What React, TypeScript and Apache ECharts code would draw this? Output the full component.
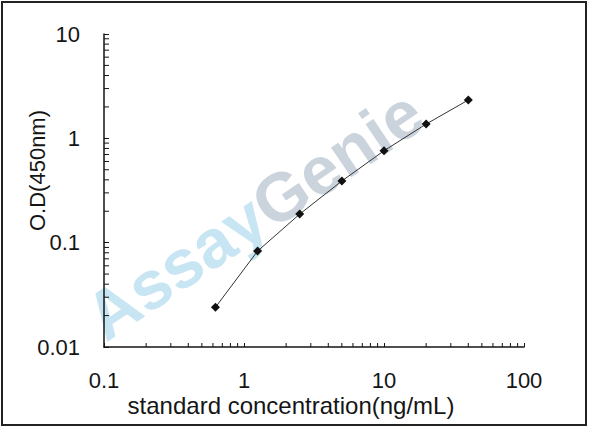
import React, { useEffect, useRef } from 'react';
import * as echarts from 'echarts';

// standard curve points
const concentration = [0.625, 1.25, 2.5, 5, 10, 20, 40];
const od450 = [0.024, 0.083, 0.188, 0.39, 0.76, 1.37, 2.33];

// minor tick positions (2..9 in every decade)
const xMinorTicks = [0.2, 0.3, 0.4, 0.5, 0.6, 0.7, 0.8, 0.9, 2, 3, 4, 5, 6, 7, 8, 9, 20, 30, 40, 50, 60, 70, 80, 90];
const yMinorTicks = [0.02, 0.03, 0.04, 0.05, 0.06, 0.07, 0.08, 0.09, 0.2, 0.3, 0.4, 0.5, 0.6, 0.7, 0.8, 0.9, 2, 3, 4, 5, 6, 7, 8, 9];

const xRange = [0.1, 100];
const yRange = [0.01, 10];

const font = 'Arial, "Liberation Sans", sans-serif';
const ink = '#151515';

const App: React.FC = () => {
  const chartRef = useRef<HTMLDivElement>(null);

  useEffect(() => {
    if (!chartRef.current) return;
    const chart = echarts.init(chartRef.current, undefined, { renderer: 'svg' });

    const option = {
      animation: false,
      backgroundColor: '#fff',
      grid: { left: 104, right: 66, top: 34, bottom: 81 },
      graphic: [
        {
          type: 'text',
          x: 254,
          y: 214,
          rotation: (34 * Math.PI) / 180,
          silent: true,
          z: -1,
          style: {
            text: '{a|Assay}{g|Genie}',
            align: 'center',
            verticalAlign: 'middle',
            rich: {
              a: { fill: '#c8e5f3', fontSize: 68, fontWeight: 'bold', fontFamily: font },
              g: { fill: '#cbd4dc', fontSize: 68, fontWeight: 'bold', fontFamily: font },
            },
          },
        },
        {
          type: 'rect',
          silent: true,
          shape: { x: 2, y: 2, width: 584, height: 423 },
          style: { fill: 'none', stroke: '#222', lineWidth: 2 },
        },
      ],
      xAxis: {
        type: 'log',
        logBase: 10,
        min: xRange[0],
        max: xRange[1],
        name: 'standard concentration(ng/mL)',
        nameLocation: 'middle',
        nameGap: 46,
        nameMoveOverlap: false,
        nameTextStyle: { color: ink, fontSize: 24, lineHeight: 24, fontFamily: font, padding: [0, 46, 0, 0] },
        axisLine: { lineStyle: { color: ink, width: 1.5 } },
        axisTick: { inside: true, length: 4, lineStyle: { color: ink } },
        axisLabel: { color: ink, fontSize: 22, lineHeight: 22, fontFamily: font, margin: 22 },
        splitLine: { show: false },
      },
      yAxis: {
        type: 'log',
        logBase: 10,
        min: yRange[0],
        max: yRange[1],
        name: 'O.D(450nm)',
        nameLocation: 'middle',
        nameGap: 56,
        nameMoveOverlap: false,
        nameTextStyle: { color: ink, fontSize: 22, fontFamily: font, padding: [0, 0, 0, 40] },
        axisLine: { lineStyle: { color: ink, width: 1.5 } },
        axisTick: { inside: true, length: 5, lineStyle: { color: ink } },
        axisLabel: { color: ink, fontSize: 22, fontFamily: font, margin: 24 },
        splitLine: { show: false },
      },
      series: [
        {
          type: 'line',
          data: concentration.map((c, i) => [c, od450[i]]),
          symbol: 'diamond',
          symbolSize: 9,
          itemStyle: { color: '#111' },
          lineStyle: { color: '#333', width: 1 },
          z: 4,
        },
        {
          type: 'custom',
          silent: true,
          clip: false,
          z: 3,
          data: xMinorTicks.map((v) => [v, yRange[0]]),
          renderItem: (params: any, api: any) => {
            const p = api.coord([api.value(0), api.value(1)]);
            return {
              type: 'line',
              shape: { x1: p[0], y1: p[1], x2: p[0], y2: p[1] - 4 },
              style: { stroke: ink, lineWidth: 1 },
            };
          },
        },
        {
          type: 'custom',
          silent: true,
          clip: false,
          z: 3,
          data: yMinorTicks.map((v) => [xRange[0], v]),
          renderItem: (params: any, api: any) => {
            const p = api.coord([api.value(0), api.value(1)]);
            return {
              type: 'line',
              shape: { x1: p[0], y1: p[1], x2: p[0] + 5, y2: p[1] },
              style: { stroke: ink, lineWidth: 1 },
            };
          },
        },
      ],
    };

    chart.setOption(option as any);
    return () => {
      chart.dispose();
    };
  }, []);

  return (
    <div
      ref={chartRef}
      style={{ position: 'fixed', left: 0, top: 0, width: 590, height: 428 }}
    />
  );
};

export default App;
